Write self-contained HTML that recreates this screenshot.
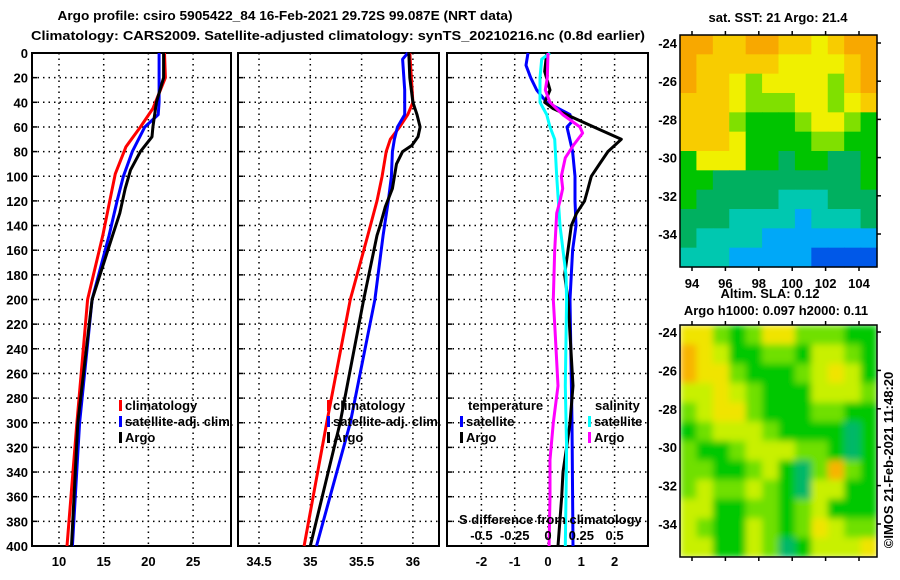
<!DOCTYPE html>
<html><head><meta charset="utf-8">
<style>
html,body{margin:0;padding:0;background:#fff;}
svg{display:block;}
text{font-family:"Liberation Sans",sans-serif;font-weight:bold;font-size:13px;fill:#000;}
</style></head>
<body>
<svg id="chart" width="900" height="580" viewBox="0 0 900 580" xmlns="http://www.w3.org/2000/svg">
<defs>
<filter id="blur" x="0" y="0" width="1" height="1"><feGaussianBlur stdDeviation="3.5" edgeMode="duplicate"/></filter>
<clipPath id="clip2"><rect x="680" y="325" width="197" height="232"/></clipPath>
</defs>
<text x="285" y="20" text-anchor="middle" font-size="14" textLength="455" lengthAdjust="spacingAndGlyphs">Argo profile: csiro 5905422_84 16-Feb-2021 29.72S 99.087E (NRT data)</text>
<text x="338" y="40" text-anchor="middle" font-size="14" textLength="614" lengthAdjust="spacingAndGlyphs">Climatology: CARS2009. Satellite-adjusted climatology: synTS_20210216.nc (0.8d earlier)</text>
<g id="p1"></g>
<g id="p2"></g>
<g id="p3"></g>
<g id="m1"></g>
<g id="m2"></g>
<text x="778" y="22" text-anchor="middle">sat. SST: 21 Argo: 21.4</text>
<text x="770" y="298" text-anchor="middle">Altim. SLA: 0.12</text>
<text x="776" y="315" text-anchor="middle">Argo h1000: 0.097 h2000: 0.11</text>
<text transform="translate(893,460) rotate(-90)" text-anchor="middle" font-weight="normal">©IMOS 21-Feb-2021 11:48:20</text>
</svg>
<script>
// ---- data ----
const depthTicks = [0,20,40,60,80,100,120,140,160,180,200,220,240,260,280,300,320,340,360,380,400];
const tTicks = [10,15,20,25];
const sTicks = [34.5,35,35.5,36];
const dTTicks = [-2,-1,0,1,2];
const dSTicks = [-0.5,-0.25,0,0.25,0.5];
const dSTickLabels = ['-0.5','-0.25','0','0.25','0.5'];

const tClimDepth = [0,20,45,60,76,98,119,148,200,300,400];
const tClimVal   = [21.8,21.9,20.5,19.1,17.5,16.3,15.7,14.9,13.2,12.0,10.9];
const tSatDepth  = [0,40,50,60,80,100,120,148,200,300,400];
const tSatVal    = [21.2,21.2,21.1,19.6,18.2,17.2,16.5,15.6,13.7,12.3,11.5];
const tArgoDepth = [0,20,40,60,68,80,95,110,130,148,200,300,400];
const tArgoVal   = [21.7,21.7,20.9,20.5,20.4,19.1,18.0,17.4,16.8,16.0,13.7,12.1,11.4];

const sClimDepth = [0,40,50,60,70,80,100,120,148,200,300,400];
const sClimVal   = [35.97,36.0,35.95,35.87,35.78,35.74,35.70,35.65,35.56,35.39,35.16,34.94];
const sSatDepth  = [0,5,30,50,60,70,80,100,120,148,200,300,400];
const sSatVal    = [35.95,35.9,35.92,35.92,35.85,35.82,35.80,35.79,35.76,35.71,35.63,35.39,35.06];
const sArgoDepth = [0,20,40,50,60,68,75,80,90,110,125,140,148,200,300,400];
const sArgoVal   = [35.96,35.97,36.0,36.04,36.07,36.05,35.99,35.9,35.84,35.8,35.73,35.68,35.65,35.52,35.29,35.0];

const dTSatDepth = [0,10,20,30,40,50,56,60,80,100,120,140,160,200,300,400];
const dTSatVal   = [-0.6,-0.66,-0.52,-0.34,-0.04,0.66,0.71,0.57,0.74,0.81,0.81,0.84,0.74,0.66,0.72,0.75];
const dTArgoDepth = [0,15,30,40,45,55,70,80,90,100,110,120,130,140,160,180,200,270,300,320,340,360,400];
const dTArgoVal   = [-0.04,-0.1,0.06,-0.1,0.15,0.96,2.2,1.8,1.55,1.3,1.2,1.1,0.86,0.7,0.6,0.5,0.6,0.75,0.66,0.56,0.45,0.41,0.3];
const dSSatDepth = [0,5,20,40,50,60,70,100,140,180,200,270,320,360,400];
const dSSatVal   = [0.015,-0.047,-0.06,-0.06,-0.01,0.015,0.05,0.065,0.09,0.135,0.14,0.13,0.14,0.135,0.13];
const dSArgoDepth = [0,20,30,40,50,60,65,75,85,100,110,120,130,160,200,220,270,300,330,360,400];
const dSArgoVal   = [0,-0.005,-0.02,0.015,0.11,0.24,0.26,0.19,0.13,0.1,0.11,0.09,0.065,0.05,0.04,0.05,0.075,0.04,0.015,0.015,0.008];

const lonTicks = [94,96,98,100,102,104];
const latTicks = [-24,-26,-28,-30,-32,-34];
const sstGrid = [
[8,8,7,7,8,8,7,7,6,7,8,8],
[8,7,7,7,7,7,6,6,6,6,7,8],
[8,7,7,6,5,6,6,6,6,5,7,8],
[7,7,7,6,5,5,5,6,6,5,6,7],
[7,7,7,5,4,4,4,5,6,6,5,4],
[7,7,7,6,4,4,4,4,5,5,4,4],
[4,6,6,6,4,4,3,4,4,3,3,4],
[4,4,3,3,3,3,3,3,3,3,3,4],
[4,3,3,3,3,3,2,2,2,3,3,3],
[3,3,3,2,2,2,2,1,2,2,2,3],
[3,2,2,2,2,1,1,1,1,1,1,1],
[2,2,2,1,1,1,1,1,0,0,0,0]];
const slaGrid = [
[7,7,5,4,5,7,7,5,5,5,4,4],
[8,7,6,4,4,5,5,4,6,6,5,4],
[8,7,7,5,4,4,4,5,6,7,6,4],
[6,6,7,6,5,4,4,4,6,6,6,5],
[5,6,7,7,5,4,4,4,5,5,4,4],
[4,5,6,6,6,5,4,4,4,4,3,4],
[5,4,4,5,6,6,6,5,5,4,3,4],
[5,5,4,4,5,6,4,3,5,8,5,4],
[5,6,5,5,6,5,4,3,6,6,4,4],
[6,6,4,4,5,5,4,5,6,4,4,4],
[6,5,4,4,6,5,4,5,7,6,5,5],
[6,6,4,4,6,5,3,4,6,6,6,7]];
const sstColors = ['#0058e8','#00a8f8','#00c8b0','#00b060','#00c400','#80e000','#f0f000','#f8cc00','#f8a800'];
const slaColors = ['#0058e8','#00a8f8','#00c8b0','#00b868','#00c800','#70e000','#c8f000','#f0e400','#f8b400'];

// ---- helpers ----
const NS='http://www.w3.org/2000/svg';
function mk(parent,tag,attrs){const e=document.createElementNS(NS,tag);for(const k in attrs)e.setAttribute(k,attrs[k]);parent.appendChild(e);return e;}
const TOP=53,BOT=546;
function yD(d){return TOP+d*(BOT-TOP)/400;}
function xT(v){return 59+(v-10)*8.94;}
function xS(v){return 259+(v-34.5)*102.6;}
function xDT(v){return 548+v*33.3;}
function xDS(v){return 548+v*133.2;}

function panel(g,x0,x1,xTicksArr,xfn,labels,showY,name){
  for(const d of depthTicks){
    if(d>0&&d<400){
      const l=mk(g,'line',{x1:x0,x2:x1,y1:yD(d),y2:yD(d),stroke:'#000','stroke-width':1.5,'stroke-dasharray':'1.5,4'});
      
      
    }
    const t=mk(g,'line',{x1:x0,x2:x0+5,y1:yD(d),y2:yD(d),stroke:'#000','stroke-width':1.5});
    
    
    if(showY){
      const tx=mk(g,'text',{x:28,y:yD(d)+5,'text-anchor':'end'});
      tx.textContent=d;
      
      
    }
  }
  xTicksArr.forEach((v,i)=>{
    const x=xfn(v);
    const l=mk(g,'line',{x1:x,x2:x,y1:TOP,y2:BOT,stroke:'#000','stroke-width':1.5,'stroke-dasharray':'1.5,4'});
    
    
    const tx=mk(g,'text',{x:x,y:566,'text-anchor':'middle'});
    tx.textContent=labels?labels[i]:v;
    
    
  });
  const r=mk(g,'rect',{x:x0,y:TOP,width:x1-x0,height:BOT-TOP,fill:'none',stroke:'#000','stroke-width':2});
  
  
}
function series(g,depths,vals,xfn,color,name){
  const pts=depths.map((d,i)=>xfn(vals[i]).toFixed(1)+','+yD(d).toFixed(1)).join(' ');
  const p=mk(g,'polyline',{points:pts,fill:'none',stroke:color,'stroke-width':3,'stroke-linejoin':'round'});
  
  
}
function legendItem(g,x,y,color,label,name){
  const r=mk(g,'rect',{x:x,y:y-10,width:3,height:11,fill:color});
  
  
  const t=mk(g,'text',{x:x+6,y:y,'font-size':12.5});
  t.textContent=label;
  
  
}
function txt(g,x,y,s,name,anchor){
  const t=mk(g,'text',{x:x,y:y,'text-anchor':anchor||'start'});
  t.textContent=s;
  
  
}

// panel 1
const p1=document.getElementById('p1');
panel(p1,32,231,tTicks,xT,null,true,'temperature-panel');
series(p1,tClimDepth,tClimVal,xT,'#ff0000','temperature-climatology-line');
series(p1,tSatDepth,tSatVal,xT,'#0000ff','temperature-satellite-line');
series(p1,tArgoDepth,tArgoVal,xT,'#000000','temperature-argo-line');
legendItem(p1,119,410,'#ff0000','climatology','legend-climatology');
legendItem(p1,119,426,'#0000ff','satellite-adj. clim.','legend-satellite-adj');
legendItem(p1,119,442,'#000000','Argo','legend-argo');

// panel 2
const p2=document.getElementById('p2');
panel(p2,238,439,sTicks,xS,null,false,'salinity-panel');
series(p2,sClimDepth,sClimVal,xS,'#ff0000','salinity-climatology-line');
series(p2,sSatDepth,sSatVal,xS,'#0000ff','salinity-satellite-line');
series(p2,sArgoDepth,sArgoVal,xS,'#000000','salinity-argo-line');
legendItem(p2,327,410,'#ff0000','climatology','legend-climatology');
legendItem(p2,327,426,'#0000ff','satellite-adj. clim.','legend-satellite-adj');
legendItem(p2,327,442,'#000000','Argo','legend-argo');

// panel 3
const p3=document.getElementById('p3');
panel(p3,447,648,dTTicks,xDT,null,false,'difference-panel');
series(p3,dTSatDepth,dTSatVal,xDT,'#0000ff','t-diff-satellite-line');
series(p3,dTArgoDepth,dTArgoVal,xDT,'#000000','t-diff-argo-line');
series(p3,dSSatDepth,dSSatVal,xDS,'#00ffff','s-diff-satellite-line');
series(p3,dSArgoDepth,dSArgoVal,xDS,'#ff00ff','s-diff-argo-line');
txt(p3,468,410,'temperature','legend-temperature-heading');
legendItem(p3,460,426,'#0000ff','satellite','legend-t-satellite');
legendItem(p3,460,442,'#000000','Argo','legend-t-argo');
txt(p3,595,410,'salinity','legend-salinity-heading');
legendItem(p3,588,426,'#00ffff','satellite','legend-s-satellite');
legendItem(p3,588,442,'#ff00ff','Argo','legend-s-argo');
txt(p3,459,524,'S difference from climatology','s-axis-title');
dSTicks.forEach((v,i)=>{txt(p3,xDS(v),540,dSTickLabels[i],'s-tick-label','middle');});

// maps
function drawMap(id,grid,colors,y0,y1,latAt24,latStep,name,smooth){
  const g=document.getElementById(id);
  const x0=680,x1=877;
  const rows=grid.length,cols=grid[0].length;
  const cw=(x1-x0)/cols,ch=(y1-y0)/rows;
  let cg=g;
  if(smooth){
    const outer=mk(g,'g',{'clip-path':'url(#clip2)'});
    
    
    cg=mk(outer,'g',{filter:'url(#blur)'});
    
    
  }
  grid.forEach((row,r)=>row.forEach((v,c)=>{
    const e=mk(cg,'rect',{x:(x0+c*cw).toFixed(2),y:(y0+r*ch).toFixed(2),width:(cw+0.6).toFixed(2),height:(ch+0.6).toFixed(2),fill:colors[v]});
    
    
  }));
  const fr=mk(g,'rect',{x:x0,y:y0,width:x1-x0,height:y1-y0,fill:'none',stroke:'#000','stroke-width':1.5});
  
  
  latTicks.forEach(lat=>{
    const y=latAt24+(-24-lat)*latStep;
    txt(g,677,y+5,String(lat),name+'-lat-label','end');
    const t=mk(g,'line',{x1:x1,x2:x1+4,y1:y,y2:y,stroke:'#000','stroke-width':1.5});
    
    
  });
  lonTicks.forEach(lon=>{
    const x=692+(lon-94)*16.7;
    const t1=mk(g,'line',{x1:x,x2:x,y1:y0-4,y2:y0,stroke:'#000','stroke-width':1.5});
    
    
    const t2=mk(g,'line',{x1:x,x2:x,y1:y1,y2:y1+4,stroke:'#000','stroke-width':1.5});
    
    
    if(id==='m1') txt(g,x,288,String(lon),'sst-lon-label','middle');
  });
}
drawMap('m1',sstGrid,sstColors,35,267,43,19.1,'sst-map',false);
drawMap('m2',slaGrid,slaColors,325,557,332,19.2,'sla-map',true);
</script>
</body></html>
